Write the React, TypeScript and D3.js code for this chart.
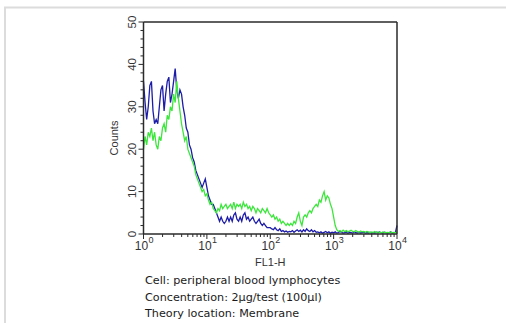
import * as d3 from "d3";

// histogram channels: one value every 0.025 decade, from 10^0 to 10^4
const blueCounts = [
  36, 31, 27, 30, 35, 36, 29, 26, 27, 26, 30, 34, 35, 29, 33, 36, 37, 31, 33, 36,
  39, 34, 32, 34, 33, 30, 28, 25, 24, 21, 20, 18, 17, 15, 14, 13, 12, 11, 12, 13,
  11, 9, 8, 7, 7, 6, 5, 4, 3, 4, 3, 2.5, 3, 4, 3, 4, 3, 4.5, 5, 3.5,
  3, 4, 3, 4.5, 5, 3.5, 4, 3, 3.5, 4, 3, 2.5, 3, 3.5, 2.5, 2, 2.5, 2, 1.5, 1.5,
  1.5, 1.2, 1, 1.5, 1, 0.8, 1.2, 0.6, 0.8, 0.5, 0.7, 0.4, 0.6, 0.5, 0.8, 0.4, 0.7, 1, 0.6, 0.9,
  0.5, 1, 0.6, 1.2, 0.8, 0.6, 1, 0.5, 0.8, 0.4, 0.5, 0.3, 0.5, 0.2, 0.4, 0.6, 0.3, 0.5, 0.2, 0.4,
  0.3, 0.5, 0.2, 0.3, 0.6, 0.4, 0.2, 0.3, 0.5, 0.2, 0.4, 0.3, 0.2, 0.5, 0.3, 0.2, 0.4, 0.2, 0.3, 0.5,
  0.2, 0.3, 0.2, 0.4, 0.2, 0.3, 0.2, 0.4, 0.3, 0.5, 0.3, 0.2, 0.4, 0.3, 0.2, 0.3, 0.5, 0.2, 0.3, 0.4,
  2,
];

const greenCounts = [
  20, 23, 21, 24, 23, 25, 22, 24, 21, 20, 23, 22, 25, 26, 24, 28, 27, 30, 29, 33,
  31, 36, 32, 29, 26, 24, 22, 23, 20, 19, 18, 17, 16, 14, 13, 12, 11, 10, 10.5, 9,
  9.5, 8, 7, 7.5, 6, 5.5, 5, 6, 5.5, 7, 6, 6.5, 7, 6, 6.5, 7, 6, 7.5, 6, 7,
  6.5, 7, 6, 7.5, 6.5, 7, 6, 6.5, 5.5, 6.5, 6, 5, 6, 5.5, 5, 6, 5.5, 5, 6, 5,
  4.5, 4, 4.5, 3.5, 4, 3, 3.5, 2.5, 3, 2.5, 2, 2.5, 2, 2.5, 2, 3, 2.5, 4, 5, 3,
  2, 4, 4.5, 4, 5, 5.5, 5, 6, 6.5, 7, 6.5, 8, 7.5, 9, 10, 8, 9, 8.5, 7, 6,
  4, 2, 1, 0.6, 0.8, 0.5, 0.9, 0.6, 0.8, 0.5, 0.7, 0.9, 0.6, 0.5, 0.8, 0.6, 0.4, 0.7, 0.5, 0.6,
  0.4, 0.6, 0.5, 0.3, 0.5, 0.4, 0.6, 0.3, 0.5, 0.4, 0.3, 0.5, 0.4, 0.3, 0.4, 0.3, 0.5, 0.3, 0.4, 0.3,
  0.5,
];

const yTicks = [0, 10, 20, 30, 40, 50];
const xDecades = [0, 1, 2, 3, 4];
const captionLines = [
  "Cell: peripheral blood lymphocytes",
  "Concentration: 2µg/test (100µl)",
  "Theory location: Membrane",
];

const W = 506,
  H = 323;
const frame = { left: 143.5, right: 397, top: 22, bottom: 234 };

export default function App() {
  const x = d3.scaleLog().domain([1, 10000]).range([frame.left, frame.right]);
  const y = d3.scaleLinear().domain([0, 50]).range([frame.bottom, frame.top]);

  const chanValue = (i: number) => Math.pow(10, i * 0.025);
  const line = d3
    .line<number>()
    .x((d, i) => x(chanValue(i)))
    .y((d) => y(d));

  const minorY = d3.range(0, 51, 2);
  const minorX: number[] = [];
  for (let e = 0; e < 4; e++) for (let k = 2; k < 10; k++) minorX.push(k * Math.pow(10, e));

  const axisFont = "Liberation Sans, Arial, sans-serif";
  const ink = "#2a2a2a";

  return (
    <svg
      width={W}
      height={H}
      style={{ position: "absolute", left: 0, top: 0, background: "#fff" }}
    >
      {/* outer light border */}
      <path d={`M5,${H} V7.5 H${W}`} fill="none" stroke="#dcdcdc" strokeWidth={2} />

      <g>
        <path d={line(blueCounts) || ""} fill="none" stroke="#1c1ca8" strokeWidth={1.3} />
        <path d={line(greenCounts) || ""} fill="none" stroke="#3ce63c" strokeWidth={1.3} />
      </g>

      {/* frame */}
      <line x1={frame.left} x2={frame.right} y1={frame.top} y2={frame.top} stroke={ink} strokeWidth={1.5} />
      <line x1={frame.right} x2={frame.right} y1={frame.top} y2={frame.bottom} stroke={ink} strokeWidth={1.5} />
      <line x1={frame.left} x2={frame.left} y1={frame.top} y2={frame.bottom} stroke={ink} strokeWidth={1.5} />
      <line x1={frame.left} x2={frame.right} y1={frame.bottom} y2={frame.bottom} stroke={ink} strokeWidth={1.5} />

      {/* y axis */}
      {minorY.map((v) => (
        <line
          key={"my" + v}
          x1={frame.left}
          x2={frame.left - (v % 10 === 0 ? 5 : 3)}
          y1={y(v)}
          y2={y(v)}
          stroke={ink}
          strokeWidth={1}
        />
      ))}
      {yTicks.map((v) => (
        <text
          key={"ly" + v}
          transform={`translate(${frame.left - 8},${y(v)}) rotate(-90)`}
          textAnchor="middle"
          fontFamily={axisFont}
          fontSize={11.5}
          fill="#333"
        >
          {v}
        </text>
      ))}
      <text
        transform={`translate(${frame.left - 26},${(frame.top + frame.bottom) / 2 + 10}) rotate(-90)`}
        textAnchor="middle"
        fontFamily={axisFont}
        fontSize={11}
        fill="#333"
      >
        Counts
      </text>

      {/* x axis */}
      {minorX.map((v) => (
        <line
          key={"mx" + v}
          x1={x(v)}
          x2={x(v)}
          y1={frame.bottom}
          y2={frame.bottom + 3}
          stroke={ink}
          strokeWidth={1}
        />
      ))}
      {xDecades.map((e) => (
        <g key={"lx" + e} transform={`translate(${x(Math.pow(10, e))},0)`}>
          <line y1={frame.bottom} y2={frame.bottom + 5} stroke={ink} />
          <text
            x={-2}
            y={250}
            textAnchor="middle"
            fontFamily={axisFont}
            fontSize={12}
            fill="#333"
          >
            10
          </text>
          <text x={5} y={243} fontFamily={axisFont} fontSize={9} fill="#333">
            {e}
          </text>
        </g>
      ))}
      <text
        x={(frame.left + frame.right) / 2}
        y={266}
        textAnchor="middle"
        fontFamily={axisFont}
        fontSize={11}
        fill="#333"
      >
        FL1-H
      </text>

      {captionLines.map((t, i) => (
        <text
          key={t}
          x={145}
          y={284 + i * 16.5}
          fontFamily="DejaVu Sans, Verdana, sans-serif"
          fontSize={11.2}
          fill="#1a1a1a"
        >
          {t}
        </text>
      ))}
    </svg>
  );
}
